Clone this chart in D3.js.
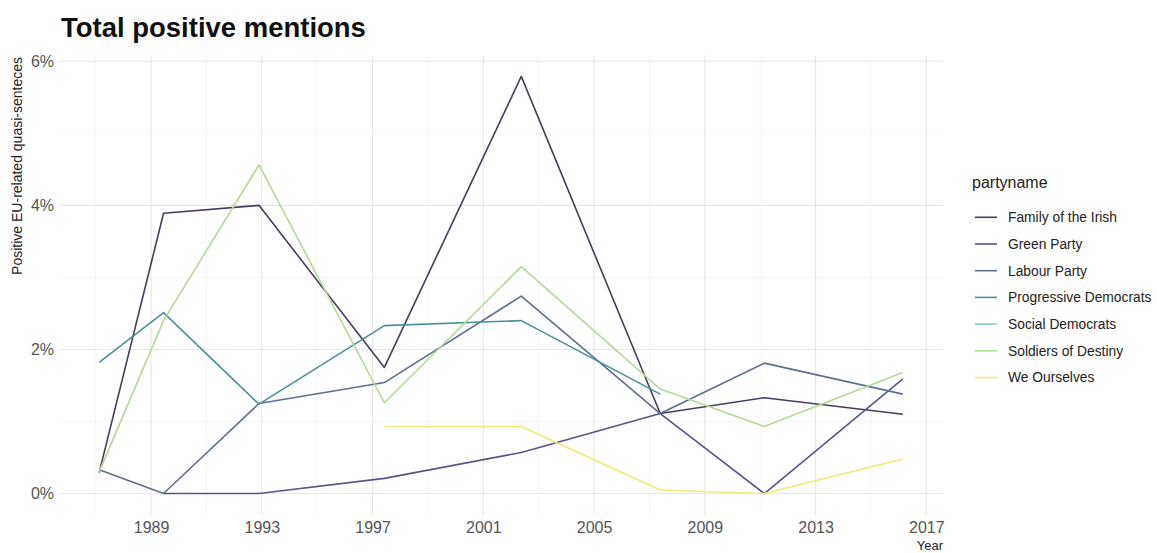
<!DOCTYPE html>
<html>
<head>
<meta charset="utf-8">
<script src="https://cdn.jsdelivr.net/npm/d3@7"></script>
<style>
  html, body { margin: 0; padding: 0; background: #fff; }
  svg { display: block; font-family: "Liberation Sans", Arial, sans-serif; }
</style>
</head>
<body>
<svg id="chart" width="1157" height="553"></svg>
<script>
// ---- data ----
const electionDates = ["1987-02-17","1989-06-15","1992-11-25","1997-06-06","2002-05-17","2007-05-24","2011-02-25","2016-02-26"];
const partyNames = ["Family of the Irish","Green Party","Labour Party","Progressive Democrats","Social Democrats","Soldiers of Destiny","We Ourselves"];
const familyOfTheIrish     = [0.29, 3.89, 4.00, 1.75, 5.79, 1.11, 1.33, 1.10];
const greenParty           = [null, 0.00, 0.00, 0.21, 0.57, 1.11, 0.00, 1.59];
const labourParty          = [0.33, 0.00, 1.25, 1.54, 2.74, 1.11, 1.81, 1.38];
const progressiveDemocrats = [1.82, 2.51, 1.24, 2.33, 2.40, 1.38, null, null];
const socialDemocrats      = [null, null, null, null, null, null, null, null];
const soldiersOfDestiny    = [0.30, 2.40, 4.56, 1.26, 3.15, 1.45, 0.93, 1.68];
const weOurselves          = [null, null, null, 0.93, 0.93, 0.05, 0.00, 0.48];
const xTickYears = [1989, 1993, 1997, 2001, 2005, 2009, 2013, 2017];
const xMinorYears = [1987, 1991, 1995, 1999, 2003, 2007, 2011, 2015];
const yTicks = [0, 2, 4, 6];
const yMinor = [1, 3, 5];

const seriesValues = [familyOfTheIrish, greenParty, labourParty, progressiveDemocrats, socialDemocrats, soldiersOfDestiny, weOurselves];
const colors = ["#4a3a5c", "#56558a", "#5d6e90", "#4b8f98", "#8cc9c9", "#b3da98", "#f2ea78"];

// ---- layout ----
const W = 1157, H = 553;
const margin = { top: 55.5, right: 214, bottom: 38.6, left: 59 };
const svg = d3.select("#chart");
const parse = d3.timeParse("%Y-%m-%d");
const dates = electionDates.map(parse);

const series = partyNames.map((name, i) => ({
  name, color: colors[i],
  values: dates.map((d, j) => ({ date: d, v: seriesValues[i][j] }))
}));

// ggplot-like 5% expansion
const tMin = d3.min(dates).getTime(), tMax = d3.max(dates).getTime();
const tPad = (tMax - tMin) * 0.05;
const allV = seriesValues.flat().filter(v => v != null);
const vMin = d3.min(allV), vMax = d3.max(allV);
const vPad = (vMax - vMin) * 0.05;

const x = d3.scaleTime()
  .domain([new Date(tMin - tPad), new Date(tMax + tPad)])
  .range([margin.left, W - margin.right]);
const y = d3.scaleLinear()
  .domain([vMin - vPad, vMax + vPad])
  .range([H - margin.bottom, margin.top]);

const yearDate = yr => new Date(yr, 0, 1);

// ---- grid ----
const grid = svg.append("g");
grid.selectAll("line.xminor").data(xMinorYears).join("line")
  .attr("x1", d => x(yearDate(d))).attr("x2", d => x(yearDate(d)))
  .attr("y1", margin.top).attr("y2", H - margin.bottom)
  .attr("stroke", "#f0f0f0").attr("stroke-width", 0.6);
grid.selectAll("line.yminor").data(yMinor).join("line")
  .attr("x1", margin.left).attr("x2", W - margin.right)
  .attr("y1", d => y(d)).attr("y2", d => y(d))
  .attr("stroke", "#f0f0f0").attr("stroke-width", 0.6);
grid.selectAll("line.xmajor").data(xTickYears).join("line")
  .attr("x1", d => x(yearDate(d))).attr("x2", d => x(yearDate(d)))
  .attr("y1", margin.top).attr("y2", H - margin.bottom)
  .attr("stroke", "#e6e6e6").attr("stroke-width", 1.1);
grid.selectAll("line.ymajor").data(yTicks).join("line")
  .attr("x1", margin.left).attr("x2", W - margin.right)
  .attr("y1", d => y(d)).attr("y2", d => y(d))
  .attr("stroke", "#e6e6e6").attr("stroke-width", 1.1);

// ---- axes (text only, theme_minimal) ----
const xAxis = d3.axisBottom(x).tickValues(xTickYears.map(yearDate))
  .tickFormat(d3.timeFormat("%Y")).tickSize(0).tickPadding(0);
const gx = svg.append("g").attr("transform", `translate(0,${H - margin.bottom})`).call(xAxis);
gx.select(".domain").remove();
gx.selectAll("text").attr("dy", null).attr("y", 18.5)
  .attr("font-size", 16).attr("fill", "#555").attr("font-family", "Liberation Sans, Arial, sans-serif");

const yAxis = d3.axisLeft(y).tickValues(yTicks).tickFormat(d => d + "%").tickSize(0).tickPadding(5);
const gy = svg.append("g").attr("transform", `translate(${margin.left},0)`).call(yAxis);
gy.select(".domain").remove();
gy.selectAll("text").attr("font-size", 16).attr("fill", "#555")
  .attr("font-family", "Liberation Sans, Arial, sans-serif");

// ---- lines ----
const line = d3.line().defined(d => d.v != null).x(d => x(d.date)).y(d => y(d.v));
svg.append("g").selectAll("path").data(series).join("path")
  .attr("d", d => line(d.values))
  .attr("fill", "none")
  .attr("stroke", d => d.color)
  .attr("stroke-width", 1.6)
  .attr("stroke-linejoin", "round");

// ---- titles ----
const title = svg.append("text").attr("x", 61).attr("y", 37)
  .attr("font-weight", "bold").attr("font-size", 24).attr("fill", "#111")
  .text("Total positive mentions");
const tw = title.node().getComputedTextLength();
title.attr("font-size", 24 * 305 / tw);

svg.append("text").attr("transform", "translate(22,57) rotate(-90)")
  .attr("text-anchor", "end").attr("font-size", 14).attr("fill", "#222")
  .text("Positive EU-related quasi-senteces");

svg.append("text").attr("x", W - margin.right).attr("y", 550)
  .attr("text-anchor", "end").attr("font-size", 13).attr("fill", "#222")
  .text("Year");

// ---- legend ----
const lg = svg.append("g");
lg.append("text").attr("x", 972).attr("y", 188).attr("font-size", 16).attr("fill", "#222").text("partyname");
const item = lg.selectAll("g.item").data(series).join("g")
  .attr("transform", (d, i) => `translate(0,${217.3 + i * 26.7})`);
item.append("line").attr("x1", 975).attr("x2", 997).attr("y1", 0).attr("y2", 0)
  .attr("stroke", d => d.color).attr("stroke-width", 1.6);
item.append("text").attr("x", 1008).attr("y", 0).attr("dy", "0.35em")
  .attr("font-size", 13.8).attr("fill", "#222").text(d => d.name);
</script>
</body>
</html>
